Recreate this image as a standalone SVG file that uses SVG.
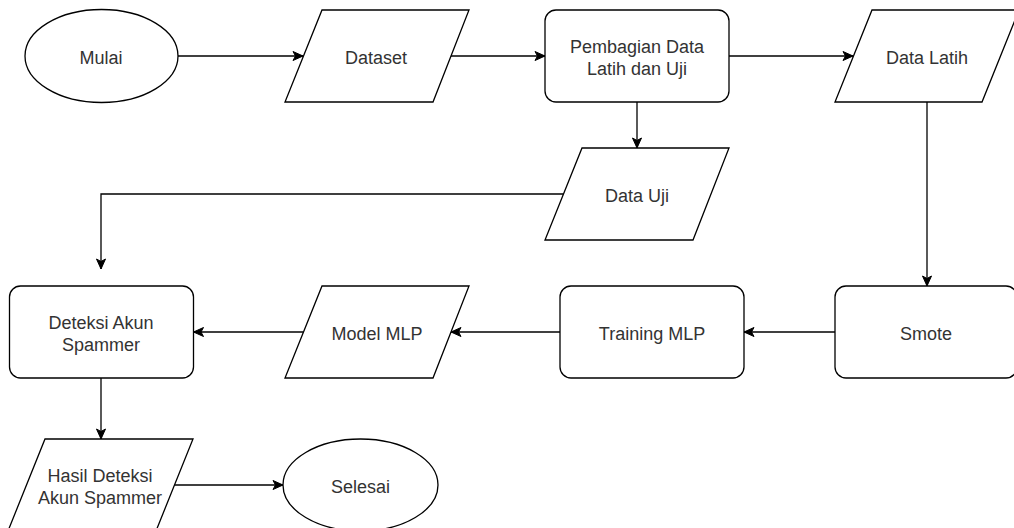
<svg xmlns="http://www.w3.org/2000/svg" width="1014" height="528" viewBox="0 0 1014 528">
  <defs>
    <marker id="arrow" markerUnits="userSpaceOnUse" markerWidth="12" markerHeight="12" viewBox="-11 -6 12 12" refX="0" refY="0" orient="auto">
      <path d="M -10 -4.5 L 0 0 L -10 4.5 L -7.5 0 Z" fill="#000" stroke="#000" stroke-width="1"/>
    </marker>
    <style>
      .shape { fill: #fff; stroke: #000; stroke-width: 1.3; }
      .label { font-family: "Liberation Sans", Arial, Helvetica, sans-serif; font-size: 18px; fill: #333; text-anchor: middle; }
      .edge { fill: none; stroke: #000; stroke-width: 1.3; marker-end: url(#arrow); }
    </style>
  </defs>
  <rect width="1014" height="528" fill="#fff"/>

  <g id="connectors">
    <path class="edge" d="M178 56 H303"/>
    <path class="edge" d="M451 56 H545"/>
    <path class="edge" d="M729 56 H853"/>
    <path class="edge" d="M637 102 V148"/>
    <path class="edge" d="M927 102 V286"/>
    <path class="edge" d="M563.5 194 H101 V269"/>
    <path class="edge" d="M835 332 H744"/>
    <path class="edge" d="M560 332 H451"/>
    <path class="edge" d="M303 332 H193.5"/>
    <path class="edge" d="M101 378 V439"/>
    <path class="edge" d="M174.5 485 H283"/>
  </g>

  <g id="mulai">
    <ellipse class="shape" cx="101.5" cy="56" rx="76.5" ry="46.5"/>
    <text class="label" x="101" y="64">Mulai</text>
  </g>

  <g id="dataset">
    <polygon class="shape" points="322,10 469,10 433,102 285,102"/>
    <text class="label" x="376" y="64">Dataset</text>
  </g>

  <g id="pembagian">
    <rect class="shape" x="545" y="10" width="184" height="92" rx="11"/>
    <text class="label" x="637" y="53">Pembagian Data</text>
    <text class="label" x="637" y="75">Latih dan Uji</text>
  </g>

  <g id="data-latih">
    <polygon class="shape" points="872,10 1019,10 982,102 835,102"/>
    <text class="label" x="927" y="64">Data Latih</text>
  </g>

  <g id="data-uji">
    <polygon class="shape" points="582,148 729,148 693,240 545,240"/>
    <text class="label" x="637" y="202">Data Uji</text>
  </g>

  <g id="smote">
    <rect class="shape" x="835" y="286" width="182" height="92" rx="11"/>
    <text class="label" x="926" y="340">Smote</text>
  </g>

  <g id="training-mlp">
    <rect class="shape" x="560" y="286" width="184" height="92" rx="11"/>
    <text class="label" x="652" y="340">Training MLP</text>
  </g>

  <g id="model-mlp">
    <polygon class="shape" points="322,286 469,286 433,378 285,378"/>
    <text class="label" x="377" y="340">Model MLP</text>
  </g>

  <g id="deteksi">
    <rect class="shape" x="9.5" y="286" width="184" height="92" rx="11"/>
    <text class="label" x="101" y="329">Deteksi Akun</text>
    <text class="label" x="101" y="351">Spammer</text>
  </g>

  <g id="hasil">
    <polygon class="shape" points="45,439 193,439 156,531 8,531"/>
    <text class="label" x="100" y="482">Hasil Deteksi</text>
    <text class="label" x="100" y="504">Akun Spammer</text>
  </g>

  <g id="selesai">
    <ellipse class="shape" cx="360.5" cy="485" rx="77.5" ry="46"/>
    <text class="label" x="360.5" y="493">Selesai</text>
  </g>
</svg>
